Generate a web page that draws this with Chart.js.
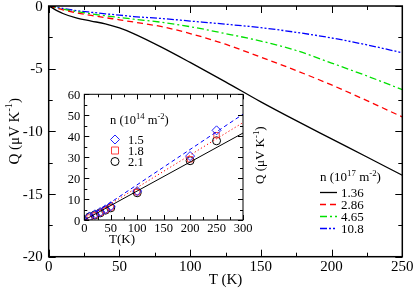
<!DOCTYPE html>
<html>
<head>
<meta charset="utf-8">
<script src="https://cdn.jsdelivr.net/npm/chart.js@4/dist/chart.umd.min.js"></script>
<style>
html, body { margin: 0; padding: 0; background: #fff; }
#wrap { position: relative; width: 415px; height: 288px; }
#wrap canvas { position: absolute; left: 0; top: 0; }
</style>
</head>
<body>
<div id="wrap">
    <canvas id="main" width="415" height="288"></canvas>
    <canvas id="inset" width="415" height="288"></canvas>
</div>
<script>
// main panel: Q(T) for four densities (10^17 m^-2)
const temps = [0, 10, 20, 30, 40, 50, 60, 80, 100, 125, 150, 175, 200, 225, 250];
const q136 = [0, -0.6, -0.97, -1.2, -1.42, -1.75, -2.2, -3.3, -4.5, -6.05, -7.65, -9.15, -10.6, -12.05, -13.5];
const q286 = [0, -0.3, -0.55, -0.75, -0.93, -1.1, -1.28, -1.65, -2.2, -3.05, -4.08, -5.15, -6.3, -7.55, -8.85];
const q465 = [0, -0.25, -0.45, -0.62, -0.78, -0.92, -1.05, -1.3, -1.65, -2.2, -2.8, -3.55, -4.55, -5.58, -6.67];
const q108 = [0, -0.2, -0.37, -0.5, -0.62, -0.73, -0.84, -1.0, -1.2, -1.45, -1.73, -2.1, -2.55, -3.1, -3.73];
const densities = ['1.36', '2.86', '4.65', '10.8'];
const mainXTicks = [0, 50, 100, 150, 200, 250];
const mainYTicks = [0, -5, -10, -15, -20];

// inset: measured points and straight fits (10^14 m^-2)
const insetT = [10, 20, 30, 40, 50, 100, 200, 250];
const q15 = [1.7, 2.7, 3.8, 5.1, 6.6, 13.8, 30.5, 42.8];
const q18 = [1.2, 2.3, 3.4, 4.7, 6.0, 13.3, 29.0, 40.5];
const q21 = [1.5, 2.4, 3.4, 4.7, 5.8, 13.0, 28.3, 37.8];
const fitT = [0, 300];
const fit15 = [0, 50.5];
const fit18 = [0, 46.5];
const fit21 = [0, 41.5];
const insetLabels = ['1.5', '1.8', '2.1'];
const insetXTicks = [0, 50, 100, 150, 200, 250, 300];
const insetYTicks = [0, 10, 20, 30, 40, 50, 60];

const SERIF = '"Liberation Serif", "Times New Roman", serif';

function toPoints(xs, ys) {
    return xs.map((x, i) => ({ x, y: ys[i] }));
}

// text with superscript pieces, parts = [[text, isSup], ...]
function drawRich(ctx, parts, x, y, size, align) {
    const fontFor = (sup) => `${sup ? size * 0.68 : size}px ${SERIF}`;
    let total = 0;
    parts.forEach(([t, sup]) => {
        ctx.font = fontFor(sup);
        total += ctx.measureText(t).width;
    });
    let cx = align === 'center' ? x - total / 2 : x;
    ctx.textAlign = 'left';
    ctx.textBaseline = 'alphabetic';
    parts.forEach(([t, sup]) => {
        ctx.font = fontFor(sup);
        ctx.fillText(t, cx, sup ? y - size * 0.42 : y);
        cx += ctx.measureText(t).width;
    });
}

// frame with inward ticks on all four sides, plus tick labels
const frameAxes = {
    id: 'frameAxes',
    afterDatasetsDraw(chart, args, o) {
        const { ctx, chartArea: a, scales: { x, y } } = chart;
        ctx.save();
        ctx.strokeStyle = '#000';
        ctx.lineWidth = o.tickWidth;
        ctx.beginPath();
        for (let v = x.min; v <= x.max + 1e-6; v += o.xMinor) {
            const px = Math.round(x.getPixelForValue(v)) + 0.5;
            const len = o.xTicks.includes(v) ? o.major : o.minor;
            ctx.moveTo(px, a.bottom); ctx.lineTo(px, a.bottom - len);
            ctx.moveTo(px, a.top); ctx.lineTo(px, a.top + len);
        }
        for (let v = y.min; v <= y.max + 1e-6; v += o.yMinor) {
            const py = Math.round(y.getPixelForValue(v)) + 0.5;
            const len = o.yTicks.includes(v) ? o.major : o.minor;
            ctx.moveTo(a.left, py); ctx.lineTo(a.left + len, py);
            ctx.moveTo(a.right, py); ctx.lineTo(a.right - len, py);
        }
        ctx.stroke();
        ctx.lineWidth = o.frameWidth;
        ctx.strokeRect(a.left, a.top, a.right - a.left, a.bottom - a.top);

        ctx.fillStyle = '#000';
        ctx.font = `${o.fontSize}px ${SERIF}`;
        ctx.textBaseline = 'alphabetic';
        ctx.textAlign = 'center';
        o.xTicks.forEach((v) => {
            ctx.fillText(String(v), x.getPixelForValue(v), a.bottom + o.xLabelDy);
        });
        ctx.textAlign = 'right';
        o.yTicks.forEach((v) => {
            ctx.fillText(String(v), a.left - o.yLabelDx, y.getPixelForValue(v) + o.yLabelDy);
        });
        ctx.restore();
    }
};

const mainDecor = {
    id: 'mainDecor',
    afterDraw(chart) {
        const { ctx, chartArea: a } = chart;
        ctx.save();
        ctx.fillStyle = '#000';
        drawRich(ctx, [['T (K)', false]], (a.left + a.right) / 2, 284, 15, 'center');

        ctx.translate(18.5, (a.top + a.bottom) / 2);
        ctx.rotate(-Math.PI / 2);
        drawRich(ctx, [['Q (\u03bcV K', false], ['-1', true], [')', false]], 0, 0, 15, 'center');
        ctx.restore();

        // legend
        ctx.save();
        ctx.fillStyle = '#000';
        drawRich(ctx, [['n (10', false], ['17', true], [' m', false], ['-2', true], [')', false]], 320, 181, 13, 'left');
        chart.data.datasets.forEach((ds, i) => {
            const ly = 192.5 + i * 12;
            ctx.strokeStyle = ds.borderColor;
            ctx.lineWidth = ds.borderWidth;
            ctx.setLineDash(ds.borderDash || []);
            ctx.beginPath();
            ctx.moveTo(320, ly); ctx.lineTo(337, ly);
            ctx.stroke();
            ctx.setLineDash([]);
            ctx.font = `13px ${SERIF}`;
            ctx.textAlign = 'left';
            ctx.fillText(ds.label, 341, ly + 4.5);
        });
        ctx.restore();
    }
};

const insetDecor = {
    id: 'insetDecor',
    afterDraw(chart) {
        const { ctx, chartArea: a } = chart;
        ctx.save();
        ctx.fillStyle = '#000';
        drawRich(ctx, [['T(K)', false]], 122, 243, 13, 'center');

        ctx.save();
        ctx.translate(264, (a.top + a.bottom) / 2 - 2);
        ctx.rotate(-Math.PI / 2);
        drawRich(ctx, [['Q (\u03bcV K', false], ['-1', true], [')', false]], 0, 0, 13, 'center');
        ctx.restore();

        drawRich(ctx, [['n (10', false], ['14', true], [' m', false], ['-2', true], [')', false]], 110, 124, 12.5, 'left');
        const markers = chart.data.datasets.filter((ds) => ds.marker);
        markers.forEach((ds, i) => {
            const my = 139.5 + i * 11;
            ctx.strokeStyle = ds.borderColor;
            ctx.lineWidth = 1;
            ctx.beginPath();
            if (ds.pointStyle === 'rectRot') {
                ctx.moveTo(115, my - 4.5); ctx.lineTo(119.5, my); ctx.lineTo(115, my + 4.5); ctx.lineTo(110.5, my);
                ctx.closePath();
            } else if (ds.pointStyle === 'rect') {
                ctx.rect(111.5, my - 3.5, 7, 7);
            } else {
                ctx.arc(115, my, 4, 0, Math.PI * 2);
            }
            ctx.stroke();
            ctx.font = `12.5px ${SERIF}`;
            ctx.textAlign = 'left';
            ctx.fillText(ds.label, 128, my + 4.3);
        });
        ctx.restore();
    }
};

function initMainChart() {
    const series = [q136, q286, q465, q108];
    const colors = ['#000000', '#ff0000', '#00e000', '#0000ff'];
    const dashes = [[], [6, 4], [7, 3, 2, 3], [7, 2, 2, 2, 2, 2]];

    new Chart(document.getElementById('main'), {
        type: 'scatter',
        data: {
            datasets: series.map((ys, i) => ({
                label: densities[i],
                data: toPoints(temps, ys),
                showLine: true,
                borderColor: colors[i],
                borderDash: dashes[i],
                borderWidth: 1.3,
                pointRadius: 0,
                cubicInterpolationMode: 'monotone',
                fill: false
            }))
        },
        options: {
            responsive: false,
            animation: false,
            layout: { padding: { left: 48.7, right: 12.7, top: 6, bottom: 31.3 } },
            scales: {
                x: { type: 'linear', display: false, min: 0, max: 250 },
                y: { type: 'linear', display: false, min: -20, max: 0 }
            },
            plugins: {
                legend: { display: false },
                tooltip: { enabled: false },
                frameAxes: {
                    xTicks: mainXTicks, yTicks: mainYTicks, xMinor: 25, yMinor: 2.5,
                    major: 7, minor: 4, tickWidth: 1, frameWidth: 1.5,
                    fontSize: 15, xLabelDy: 14, yLabelDx: 6, yLabelDy: 4.5
                }
            }
        },
        plugins: [frameAxes, mainDecor]
    });
}

function initInsetChart() {
    const lineSets = [
        { ys: fit15, color: '#0000ff', dash: [4, 3] },
        { ys: fit18, color: '#ff0000', dash: [1.2, 2.4] },
        { ys: fit21, color: '#000000', dash: [] }
    ];
    const markerSets = [
        { ys: q15, color: '#2020ff', style: 'rectRot', radius: 4.5 },
        { ys: q18, color: '#ff4040', style: 'rect', radius: 3.8 },
        { ys: q21, color: '#000000', style: 'circle', radius: 4 }
    ];

    const datasets = lineSets.map((s) => ({
        data: toPoints(fitT, s.ys),
        showLine: true,
        borderColor: s.color,
        borderDash: s.dash,
        borderWidth: 1,
        pointRadius: 0,
        fill: false
    })).concat(markerSets.map((s, i) => ({
        label: insetLabels[i],
        marker: true,
        data: toPoints(insetT, s.ys),
        showLine: false,
        pointStyle: s.style,
        pointRadius: s.radius,
        borderColor: s.color,
        pointBorderColor: s.color,
        backgroundColor: 'transparent',
        pointBackgroundColor: 'transparent',
        pointBorderWidth: 1
    })));

    new Chart(document.getElementById('inset'), {
        type: 'scatter',
        data: { datasets },
        options: {
            responsive: false,
            animation: false,
            layout: { padding: { left: 84.3, right: 172, top: 94.3, bottom: 68 } },
            scales: {
                x: { type: 'linear', display: false, min: 0, max: 300 },
                y: { type: 'linear', display: false, min: 0, max: 60 }
            },
            plugins: {
                legend: { display: false },
                tooltip: { enabled: false },
                frameAxes: {
                    xTicks: insetXTicks, yTicks: insetYTicks, xMinor: 25, yMinor: 5,
                    major: 5, minor: 3, tickWidth: 1, frameWidth: 1,
                    fontSize: 12.5, xLabelDy: 12, yLabelDx: 4, yLabelDy: 4.5
                }
            }
        },
        plugins: [frameAxes, insetDecor]
    });
}

document.addEventListener('DOMContentLoaded', () => {
    initMainChart();
    initInsetChart();
});
</script>
</body>
</html>
